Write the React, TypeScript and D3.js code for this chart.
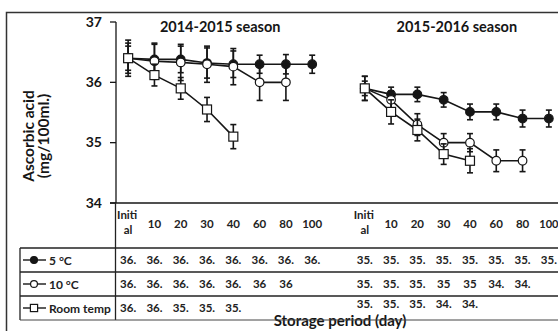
import * as d3 from "d3";
import React from "react";

// storage days for each season
const days = ["Initial", "10", "20", "30", "40", "60", "80", "100"];
const seasons = ["2014-2015 season", "2015-2016 season"];
const yTicks = [34, 35, 36, 37];

// 2014-2015 season
const s1Cold5 = [36.4, 36.38, 36.38, 36.32, 36.3, 36.3, 36.3, 36.3];
const s1Cold5Err = [0.25, 0.25, 0.22, 0.25, 0.22, 0.15, 0.16, 0.15];
const s1Cold10 = [36.4, 36.35, 36.33, 36.3, 36.26, 36.0, 36.0];
const s1Cold10Err = [0.3, 0.3, 0.3, 0.3, 0.3, 0.3, 0.3];
const s1Room = [36.4, 36.12, 35.9, 35.55, 35.1];
const s1RoomErr = [0.2, 0.18, 0.18, 0.2, 0.2];

// 2015-2016 season
const s2Cold5 = [35.9, 35.8, 35.8, 35.71, 35.51, 35.51, 35.4, 35.4];
const s2Cold5Err = [0.12, 0.12, 0.12, 0.12, 0.13, 0.13, 0.14, 0.14];
const s2Cold10 = [35.9, 35.71, 35.3, 35.0, 35.0, 34.7, 34.7];
const s2Cold10Err = [0.2, 0.15, 0.18, 0.15, 0.15, 0.18, 0.18];
const s2Room = [35.9, 35.51, 35.21, 34.81, 34.7];
const s2RoomErr = [0.2, 0.2, 0.18, 0.17, 0.2];

// table labels as printed under the chart
const tab5 = [
  ["36.", "36.", "36.", "36.", "36.", "36.", "36.", "36."],
  ["35.", "35.", "35.", "35.", "35.", "35.", "35.", "35."],
];
const tab10 = [
  ["36.", "36.", "36.", "36.", "36.", "36", "36"],
  ["35.", "35.", "35.", "35", "35", "34.", "34."],
];
const tabRoom = [
  ["36.", "36.", "35.", "35.", "35."],
  ["35.", "35.", "35.", "34.", "34."],
];

const legendNames = ["5 °C", "10 °C", "Room temp"];
const markers = ["filled", "open", "square"];

const W = 558, H = 331;
const FONT = "Lato, 'Open Sans', sans-serif";
const INK = "#161616";

// 8 days + 1 empty slot + 8 days
const slots = [...days.map(d => "a" + d), "gap", ...days.map(d => "b" + d)];
const x = d3.scalePoint().domain(slots).range([115, 562]).padding(0.5);
const y = d3.scaleLinear().domain([34, 37]).range([203, 22]);

const key = (s: number, i: number) => (s === 0 ? "a" : "b") + days[i];

function Marker({ kind, cx, cy, size = 1 }: { kind: string; cx: number; cy: number; size?: number }) {
  if (kind === "square") {
    const h = 4.5 * size;
    return <rect x={cx - h} y={cy - h} width={2 * h} height={2 * h} fill="#fff" stroke={INK} strokeWidth={1.2} />;
  }
  return (
    <circle cx={cx} cy={cy} r={4.3 * size} fill={kind === "filled" ? INK : "#fff"} stroke={INK} strokeWidth={1.2} />
  );
}

function Series({ s, vals, errs, kind }: { s: number; vals: number[]; errs: number[]; kind: string }) {
  const pts = vals.map((v, i) => [x(key(s, i))!, y(v)] as [number, number]);
  const line = d3.line();
  return (
    <g>
      <path d={line(pts)!} fill="none" stroke={INK} strokeWidth={1.6} />
      {vals.map((v, i) => {
        const cx = x(key(s, i))!;
        const t = y(v + errs[i]), b = y(v - errs[i]);
        return (
          <g key={i} stroke={INK} strokeWidth={1.6}>
            <line x1={cx} x2={cx} y1={t} y2={b} />
            <line x1={cx - 3} x2={cx + 3} y1={t} y2={t} />
            <line x1={cx - 3} x2={cx + 3} y1={b} y2={b} />
          </g>
        );
      })}
      {pts.map((p, i) => (
        <Marker key={i} kind={kind} cx={p[0]} cy={p[1]} />
      ))}
    </g>
  );
}

export default function App() {
  const rowY = [248, 272, 296, 320];
  const tables = [tab5, tab10, tabRoom];
  return (
    <svg width={W} height={H} style={{ position: "absolute", left: 0, top: 0, background: "#fff" }} fontFamily={FONT}>
      {/* outer frame */}
      <path d={`M6.5,${H} V12.5 H${W}`} fill="none" stroke="#333" strokeWidth={1.5} />

      {/* y axis */}
      <line x1={116} x2={116} y1={y(37)} y2={y(34)} stroke={INK} strokeWidth={1.3} />
      {yTicks.map(t => (
        <g key={t}>
          <line x1={110} x2={116} y1={y(t)} y2={y(t)} stroke={INK} strokeWidth={1.3} />
          <text x={102} y={y(t) + 4.5} textAnchor="end" fontSize={14} fontWeight="bold" fill={INK}>
            {t}
          </text>
        </g>
      ))}
      <text transform="translate(34,136) rotate(-90)" textAnchor="middle" fontSize={15.5} fontWeight="bold" fill={INK}>
        Ascorbic acid
      </text>
      <text transform="translate(49,136) rotate(-90)" textAnchor="middle" fontSize={15.5} fontWeight="bold" fill={INK}>
        (mg/100ml.)
      </text>

      {/* x axis */}
      <line x1={110} x2={W} y1={y(34)} y2={y(34)} stroke={INK} strokeWidth={1.5} />

      {/* season titles */}
      {seasons.map((t, s) => (
        <text key={t} x={(x(key(s, 0))! + x(key(s, 7))!) / 2} y={32} textAnchor="middle"
          fontSize={14.5} fontWeight="bold" fill={INK}>
          {t}
        </text>
      ))}

      <Series s={0} vals={s1Cold5} errs={s1Cold5Err} kind="filled" />
      <Series s={0} vals={s1Cold10} errs={s1Cold10Err} kind="open" />
      <Series s={0} vals={s1Room} errs={s1RoomErr} kind="square" />
      <Series s={1} vals={s2Cold5} errs={s2Cold5Err} kind="filled" />
      <Series s={1} vals={s2Cold10} errs={s2Cold10Err} kind="open" />
      <Series s={1} vals={s2Room} errs={s2RoomErr} kind="square" />

      {/* data table */}
      <g fill="#222" fontSize={11.5} fontWeight="bold">
        {[0, 1].map(s =>
          days.map((d, i) => {
            const cx = x(key(s, i))!;
            if (d === "Initial")
              return (
                <g key={s + d}>
                  <text x={cx - 1} y={219} textAnchor="middle">Initi</text>
                  <text x={cx} y={234} textAnchor="middle">al</text>
                </g>
              );
            return (
              <text key={s + d} x={cx} y={228} textAnchor="middle" fontSize={s === 1 && i === 7 ? 11 : 11.5}>{d}</text>
            );
          })
        )}
        {tables.map((tab, r) =>
          tab.map((row, s) =>
            row.map((lab, i) => (
              <text key={`${r}-${s}-${i}`} x={x(key(s, i))!} y={rowY[r] + (r === 2 && s === 1 ? 12 : 16)}
                textAnchor="middle">
                {lab}
              </text>
            ))
          )
        )}
        {legendNames.map((n, r) => {
          const cy = (rowY[r] + rowY[r + 1]) / 2;
          return (
            <g key={n}>
              <line x1={23} x2={46} y1={cy} y2={cy} stroke={INK} strokeWidth={1.4} />
              <Marker kind={markers[r]} cx={34} cy={cy} size={0.8} />
              <text x={49} y={cy + 4.5} fontSize={12}>{n}</text>
            </g>
          );
        })}
      </g>
      <g stroke="#222" strokeWidth={1.3}>
        {rowY.slice(0, 3).map(r => (
          <line key={r} x1={20} x2={W} y1={r} y2={r} />
        ))}
        <line x1={20} x2={20} y1={248} y2={320} />
        <line x1={115.5} x2={115.5} y1={203} y2={320} />
      </g>
      <text x={340} y={326} textAnchor="middle" fontSize={15} fontWeight="bold" fill={INK}>
        Storage period (day)
      </text>
      <line x1={20} x2={W} y1={320} y2={320} stroke="#444" strokeWidth={1} />
    </svg>
  );
}
